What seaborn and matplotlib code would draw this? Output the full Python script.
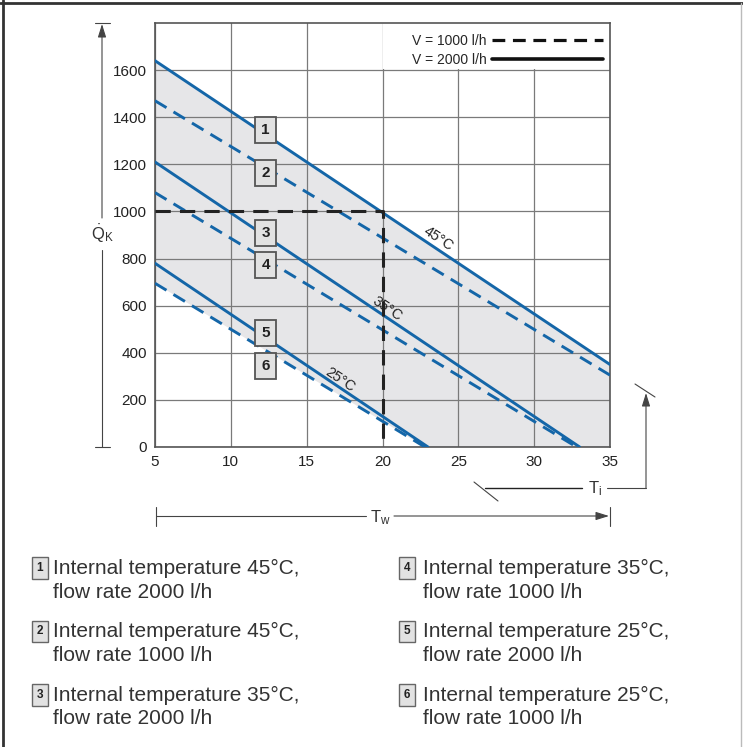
import numpy as np
import pandas as pd
import matplotlib
matplotlib.use("Agg")
import matplotlib.pyplot as plt
import seaborn as sns
from matplotlib.lines import Line2D
from matplotlib.patches import FancyArrowPatch, Rectangle

# ---- data ----
curve_ids = [1, 2, 3, 4, 5, 6]
inner_temp = [45, 45, 35, 35, 25, 25]          # internal temperature, degC
flow_rate = [2000, 1000, 2000, 1000, 2000, 1000]  # l/h
tw_start = [5, 5, 5, 5, 5, 5]
tw_end = [35, 35, 33.0, 32.8, 23.0, 22.8]
qk_start = [1640, 1470, 1210, 1080, 780, 695]
qk_end = [350, 305, 0, 0, 0, 0]

# example reading (black dashed)
op_tw = [5, 20, 20]
op_qk = [1000, 1000, 0]

# numbered tags inside the plot
tag_tw = [12.3, 12.3, 12.3, 12.3, 12.3, 12.3]
tag_qk = [1345, 1163, 908, 772, 484, 344]

# temperature labels along the solid lines
temp_labels = ["45°C", "35°C", "25°C"]
temp_label_curve = [0, 2, 4]
temp_label_tw = [23.7, 20.3, 17.2]
temp_label_qk = [885, 585, 285]

x_ticks = [5, 10, 15, 20, 25, 30, 35]
y_ticks = [0, 200, 400, 600, 800, 1000, 1200, 1400, 1600]
legend_labels = ["V = 1000 l/h", "V = 2000 l/h"]

BLUE = "#1466a8"
DARK = "#333333"

rows = []
for c, f, x0, x1, q0, q1 in zip(curve_ids, flow_rate, tw_start, tw_end, qk_start, qk_end):
    rows.append({"curve": c, "flow": f, "Tw": x0, "Qk": q0})
    rows.append({"curve": c, "flow": f, "Tw": x1, "Qk": q1})
df = pd.DataFrame(rows)

sns.set_style("white")
plt.rcParams["font.family"] = ["Liberation Sans", "DejaVu Sans"]
plt.rcParams["mathtext.fontset"] = "custom"
plt.rcParams["mathtext.rm"] = "Liberation Sans"
plt.rcParams["mathtext.it"] = "Liberation Sans:italic"

W, H = 743, 747
fig = plt.figure(figsize=(W / 100, H / 100), dpi=100)
ax = fig.add_axes([155 / W, 1 - 447 / H, 455 / W, 424 / H])


def P(x, y):
    return (x / W, 1 - y / H)


def seg(x0, y0, x1, y1, lw=0.8, color="#444444"):
    fig.add_artist(Line2D([x0 / W, x1 / W], [1 - y0 / H, 1 - y1 / H],
                          transform=fig.transFigure, lw=lw, color=color))


def arrow(x0, y0, x1, y1):
    fig.add_artist(FancyArrowPatch(P(x0, y0), P(x1, y1), transform=fig.transFigure,
                                   arrowstyle="-|>,head_length=0.8,head_width=0.25",
                                   mutation_scale=10, lw=0.8, color="#444444",
                                   shrinkA=0, shrinkB=0))


# shaded operating band between curve 1 and curve 6
band_x = [tw_start[0], tw_end[0], tw_end[0], tw_end[5], tw_start[5]]
band_y = [qk_start[0], qk_end[0], 0, qk_end[5], qk_start[5]]
ax.fill(band_x, band_y, color="#e6e6e8", lw=0, zorder=0.2)

sns.lineplot(data=df, x="Tw", y="Qk", units="curve", estimator=None, sort=False,
             style="flow", dashes={2000: "", 1000: (4.6, 2.8)}, color=BLUE,
             lw=2.1, legend=False, ax=ax, zorder=3)

ax.plot(op_tw, op_qk, color="#222222", lw=2.2, dashes=(5, 3), zorder=4)

ax.set_xlim(5, 35)
ax.set_ylim(0, 1800)
ax.set_xticks(x_ticks)
ax.set_yticks(y_ticks)
ax.set_xlabel("")
ax.set_ylabel("")
ax.set_axisbelow(True)
ax.grid(True, color="#7a7a7a", lw=0.9)
ax.tick_params(length=0, labelsize=11, colors="#222222", pad=6)
for s in ax.spines.values():
    s.set_color("#555555")
    s.set_linewidth(1.2)

# white box behind the line-style legend
ax.add_patch(Rectangle((20.06, 1606), 14.9, 193, facecolor="white", lw=0, zorder=0.6))

handles = [Line2D([], [], color="#111111", lw=2.3, dashes=(4, 2.4)),
           Line2D([], [], color="#111111", lw=2.6)]
ax.legend(handles, legend_labels, loc="upper right", bbox_to_anchor=(0.985, 0.975),
          frameon=False, markerfirst=False, handlelength=8.0, handletextpad=0.4,
          labelspacing=0.4, borderpad=0, borderaxespad=0, fontsize=10)

for c, x, y in zip(curve_ids, tag_tw, tag_qk):
    ax.text(x, y, str(c), ha="center", va="center", fontsize=11, fontweight="bold",
            color="#222222", zorder=6,
            bbox=dict(boxstyle="square,pad=0.4", fc="#e2e2e2", ec="#555555", lw=1.3))

for lab, ci, x, y in zip(temp_labels, temp_label_curve, temp_label_tw, temp_label_qk):
    p0 = ax.transData.transform((tw_start[ci], qk_start[ci]))
    p1 = ax.transData.transform((tw_end[ci], qk_end[ci]))
    ang = np.degrees(np.arctan2(p1[1] - p0[1], p1[0] - p0[0]))
    ax.text(x, y, lab, rotation=ang, rotation_mode="anchor", ha="center", va="center",
            fontsize=10.5, color="#222222", zorder=6)

# ---- axis annotations outside the plot ----
seg(95, 23, 110, 23)
seg(95, 447, 110, 447)
seg(102, 447, 102, 250)
arrow(102, 218, 102, 24)
fig.text(*P(102, 234), r"$\dot{\mathrm{Q}}_{\mathrm{K}}$", ha="center", va="center",
         fontsize=12, color=DARK)

seg(156, 507, 156, 526)
seg(610, 507, 610, 526)
seg(156, 516, 366, 516)
arrow(394, 516, 609, 516)
fig.text(*P(380, 518), r"$\mathrm{T}_{\mathrm{w}}$", ha="center", va="center",
         fontsize=12, color=DARK)

seg(474, 482, 498, 501)
seg(485, 488, 582, 488, lw=1.0, color="#222222")
fig.text(*P(595, 489), r"$\mathrm{T}_{\mathrm{i}}$", ha="center", va="center",
         fontsize=12, color=DARK)
seg(607, 488, 646, 488)
arrow(646, 488, 646, 393)
seg(635, 384, 655, 397)

# figure frame
seg(3, 0, 3, 747, lw=2, color="#333333")
seg(0, 3, 743, 3, lw=2, color="#333333")
seg(741, 3, 741, 747, lw=1, color="#bbbbbb")

# ---- key below the chart ----
for i, (c, t, f) in enumerate(zip(curve_ids, inner_temp, flow_rate)):
    col, row = divmod(i, 3)
    box_x = [40, 407][col]
    txt_x = [53, 423][col]
    y = 568 + 63.5 * row
    fig.text(*P(box_x, y), str(c), ha="center", va="center", fontsize=8.5,
             fontweight="bold", color="#222222",
             bbox=dict(boxstyle="square,pad=0.4", fc="#e2e2e2", ec="#666666", lw=1))
    fig.text(*P(txt_x, y), f"Internal temperature {t}°C,", ha="left", va="center",
             fontsize=15, color=DARK)
    fig.text(*P(txt_x, y + 24), f"flow rate {f} l/h", ha="left", va="center",
             fontsize=15, color=DARK)

fig.savefig("out.png", dpi=100)
